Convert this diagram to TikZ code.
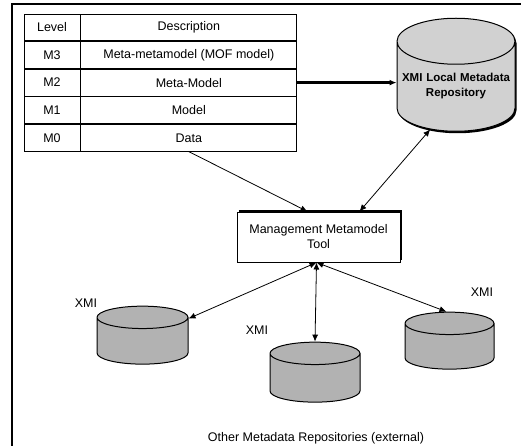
\documentclass[tikz,border=0pt]{standalone}
\usepackage{fontspec}
\setmainfont{Liberation Sans}
\usetikzlibrary{positioning,shapes.geometric,shadows,arrows.meta}
\tikzset{
  txt/.style={font=\fontsize{12.5}{15}\selectfont},
  cell/.style={txt, draw, line width=0.8pt, minimum height=26.8pt, inner sep=0pt},
  lvlcell/.style={cell, minimum width=56pt},
  desccell/.style={cell, minimum width=216pt},
  repo/.style={cylinder, shape border rotate=90, draw, line width=1pt, aspect=0.28,
    fill=black!30, inner sep=0pt, text width=80pt, align=center},
  link/.style={line width=0.8pt, -{Latex[length=7pt,width=6pt]}},
  biglink/.style={line width=0.8pt, {Latex[length=7pt,width=6pt]}-{Latex[length=7pt,width=6pt]}}
}
\begin{document}
\begin{tikzpicture}[x=1pt,y=-1pt]
		%%%%% START %%%%%
		\useasboundingbox (0,0) rectangle (521,446);
		
		% outer frame
		\draw[line width=1.2pt] (12,446) -- (12,4) -- (521,4);
		
		% level table
		\node[lvlcell] (lvlhead) at (52,27.4) {Level};
		\node[desccell, right=0pt of lvlhead] (deschead) {Description};
		\node[lvlcell, below=0pt of lvlhead] (m3) {M3};
		\node[desccell, right=0pt of m3] (m3desc) {Meta-metamodel (MOF model)};
		\node[lvlcell, below=0pt of m3] (m2) {M2};
		\node[desccell, right=0pt of m2] (m2desc) {Meta-Model};
		\node[lvlcell, below=0pt of m2] (m1) {M1};
		\node[desccell, right=0pt of m1] (m1desc) {Model};
		\node[lvlcell, below=0pt of m1] (m0) {M0};
		\node[desccell, right=0pt of m0] (m0desc) {Data};
		
		% local repository
		\node[repo, aspect=0.4, fill=black!18, text width=115pt, minimum width=118pt, minimum height=113pt,
		  drop shadow={opacity=1, fill=black, shadow xshift=1.5pt, shadow yshift=-2pt},
		  font=\bfseries\fontsize{11.5}{15}\selectfont]
		  (localrepo) at (456,86.5) {XMI Local Metadata\\Repository};
		
		% management tool
		\node[txt, draw, line width=1pt, fill=white, minimum width=163pt, minimum height=50pt,
		  align=center, drop shadow={opacity=1, fill=black, shadow xshift=2pt, shadow yshift=2pt}]
		  (mgmt) at (318.5,237) {Management Metamodel\\Tool};
		
		% other repositories
		\node[repo, minimum width=91pt, minimum height=58pt] (repoA) at (142.5,341) {};
		\node[repo, minimum width=90pt, minimum height=60pt] (repoB) at (315,378) {};
		\node[repo, minimum width=89pt, minimum height=57pt] (repoC) at (449.5,346.5) {};
		
		\node[txt] (xmiA) at (86,303) {XMI};
		\node[txt] (xmiB) at (257,330) {XMI};
		\node[txt] (xmiC) at (482,292) {XMI};
		\node[txt] (caption) at (316,438) {Other Metadata Repositories (external)};
		
		% connectors
		\draw[link, line width=2.6pt] (m2desc.east) -- (m2desc.east -| localrepo.west);
		\draw[link] (m0desc.south) -- ([xshift=-11pt]mgmt.north);
		\draw[biglink] ([xshift=41pt]mgmt.north) -- (localrepo.-121);
		\draw[biglink] ([xshift=-2pt]mgmt.south) -- (repoA.26);
		\draw[biglink] ([xshift=-2pt]mgmt.south) -- (repoB.north);
		\draw[biglink] ([xshift=-2pt]mgmt.south) -- (repoC.95);
		
		%%%%% END %%%%%
	\end{tikzpicture}
\end{document}
